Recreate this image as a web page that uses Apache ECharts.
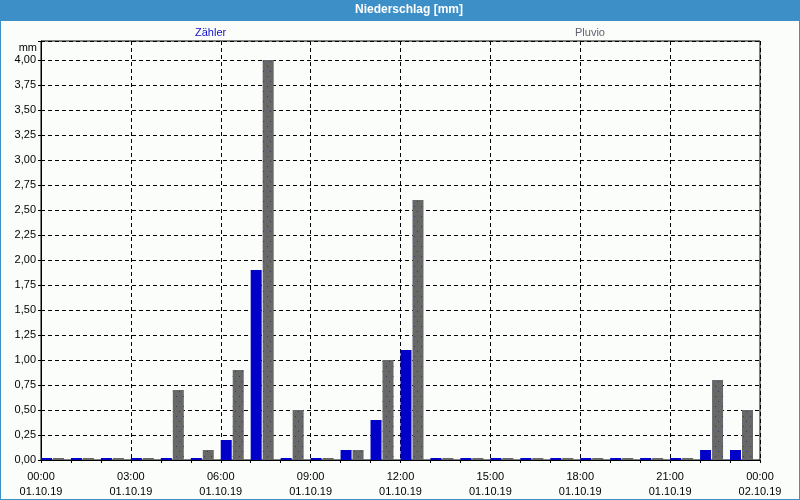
<!DOCTYPE html>
<html>
<head>
<meta charset="utf-8">
<script src="https://cdn.jsdelivr.net/npm/echarts@6/dist/echarts.min.js"></script>
<style>
html,body{margin:0;padding:0;background:#fbfdfb;}
#c{width:798px;height:498px;border:1px solid #3d8fc7;}
</style>
</head>
<body>
<div id="c"></div>
<script>
// Data
var categories = ['00:00','01:00','02:00','03:00','04:00','05:00','06:00','07:00','08:00','09:00','10:00','11:00',
                  '12:00','13:00','14:00','15:00','16:00','17:00','18:00','19:00','20:00','21:00','22:00','23:00'];
var zaehler = [0,0,0,0,0,0,0.2,1.9,0,0,0.1,0.4,1.1,0,0,0,0,0,0,0,0,0,0.1,0.1];
var pluvio  = [0,0,0,0,0.7,0.1,0.9,4.0,0.5,0,0.1,1.0,2.6,0,0,0,0,0,0,0,0,0,0.8,0.5];
var xTickLabels = ['00:00\n01.10.19','03:00\n01.10.19','06:00\n01.10.19','09:00\n01.10.19','12:00\n01.10.19',
                   '15:00\n01.10.19','18:00\n01.10.19','21:00\n01.10.19','00:00\n02.10.19'];

var FONT = 'Liberation Sans';
var chart = echarts.init(document.getElementById('c'));
var dash = [4,3];
chart.setOption({
  backgroundColor: '#fbfdfb',
  animation: false,
  textStyle: {fontFamily: FONT},
  graphic: [{type:'rect', left:0, top:0, shape:{width:798, height:20}, style:{fill:'#3d8fc7'}, z:-1}],
  title: {
    text: 'Niederschlag [mm]', left: 408, top: 3, padding: 0, textAlign: 'center',
    textStyle: {color:'#ffffff', fontSize:12, fontWeight:'bold', fontFamily: FONT}
  },
  legend: [
    {data:['Zähler'], left:189, top:25, padding:0, itemWidth:0, itemHeight:14, icon:'none',
     textStyle:{color:'#1010c8', fontSize:11, fontFamily: FONT}},
    {data:['Pluvio'], left:569, top:25, padding:0, itemWidth:0, itemHeight:14, icon:'none',
     textStyle:{color:'#606070', fontSize:11, fontFamily: FONT}}
  ],
  grid: {left:40, right:39, top:40, bottom:39, show:true, borderColor:'#000', borderWidth:1, backgroundColor:'#fbfdfb'},
  xAxis: [
    {type:'category', data: categories, show:false, boundaryGap:true},
    {type:'value', min:0, max:24, interval:3, position:'bottom',
     axisLine:{show:true, lineStyle:{color:'#000'}},
     axisTick:{show:true, length:3, lineStyle:{color:'#000'}},
     minorTick:{show:true, splitNumber:3, length:3, lineStyle:{color:'#000'}},
     splitLine:{show:true, lineStyle:{color:'#000', type:dash}},
     axisLabel:{margin:9, color:'#000', fontSize:11, lineHeight:15, fontFamily:FONT,
       formatter:function(v){ var i = Math.round(v/3); return xTickLabels[i] || ''; }}
    }
  ],
  yAxis: {
    type:'value', min:0, max:4.19, interval:0.25,
    name:'mm', nameLocation:'end', nameGap:-7,
    nameTextStyle:{color:'#000', fontSize:11, align:'right', verticalAlign:'middle', padding:[0,4,0,0], fontFamily:FONT},
    axisLine:{show:true, lineStyle:{color:'#000'}},
    axisTick:{show:true, length:3, lineStyle:{color:'#000'}},
    splitLine:{show:true, lineStyle:{color:'#000', type:dash}},
    axisLabel:{margin:5, color:'#000', fontSize:11, fontFamily:FONT,
      formatter:function(v){
        if (Math.abs(v*4 - Math.round(v*4)) > 1e-6) return '';
        return v.toFixed(2).replace('.', ',');
      }}
  },
  series: [
    {name:'Zähler', type:'bar', xAxisIndex:0, data:zaehler, barWidth:11, barMinHeight:2,
     itemStyle:{color:'#0000c8'}},
    {name:'Pluvio', type:'bar', xAxisIndex:0, data:pluvio, barWidth:11, barMinHeight:2,
     itemStyle:{color:'#686868', decal:{symbol:'rect', symbolSize:1, color:'#3a3a6a',
       dashArrayX:[[1,6],[0,3,1,3]], dashArrayY:[1,4]}}},
    {name:'spacer', type:'bar', xAxisIndex:0, data:[], barWidth:6, barGap:'9.09%'}
  ]
});
</script>
</body>
</html>
